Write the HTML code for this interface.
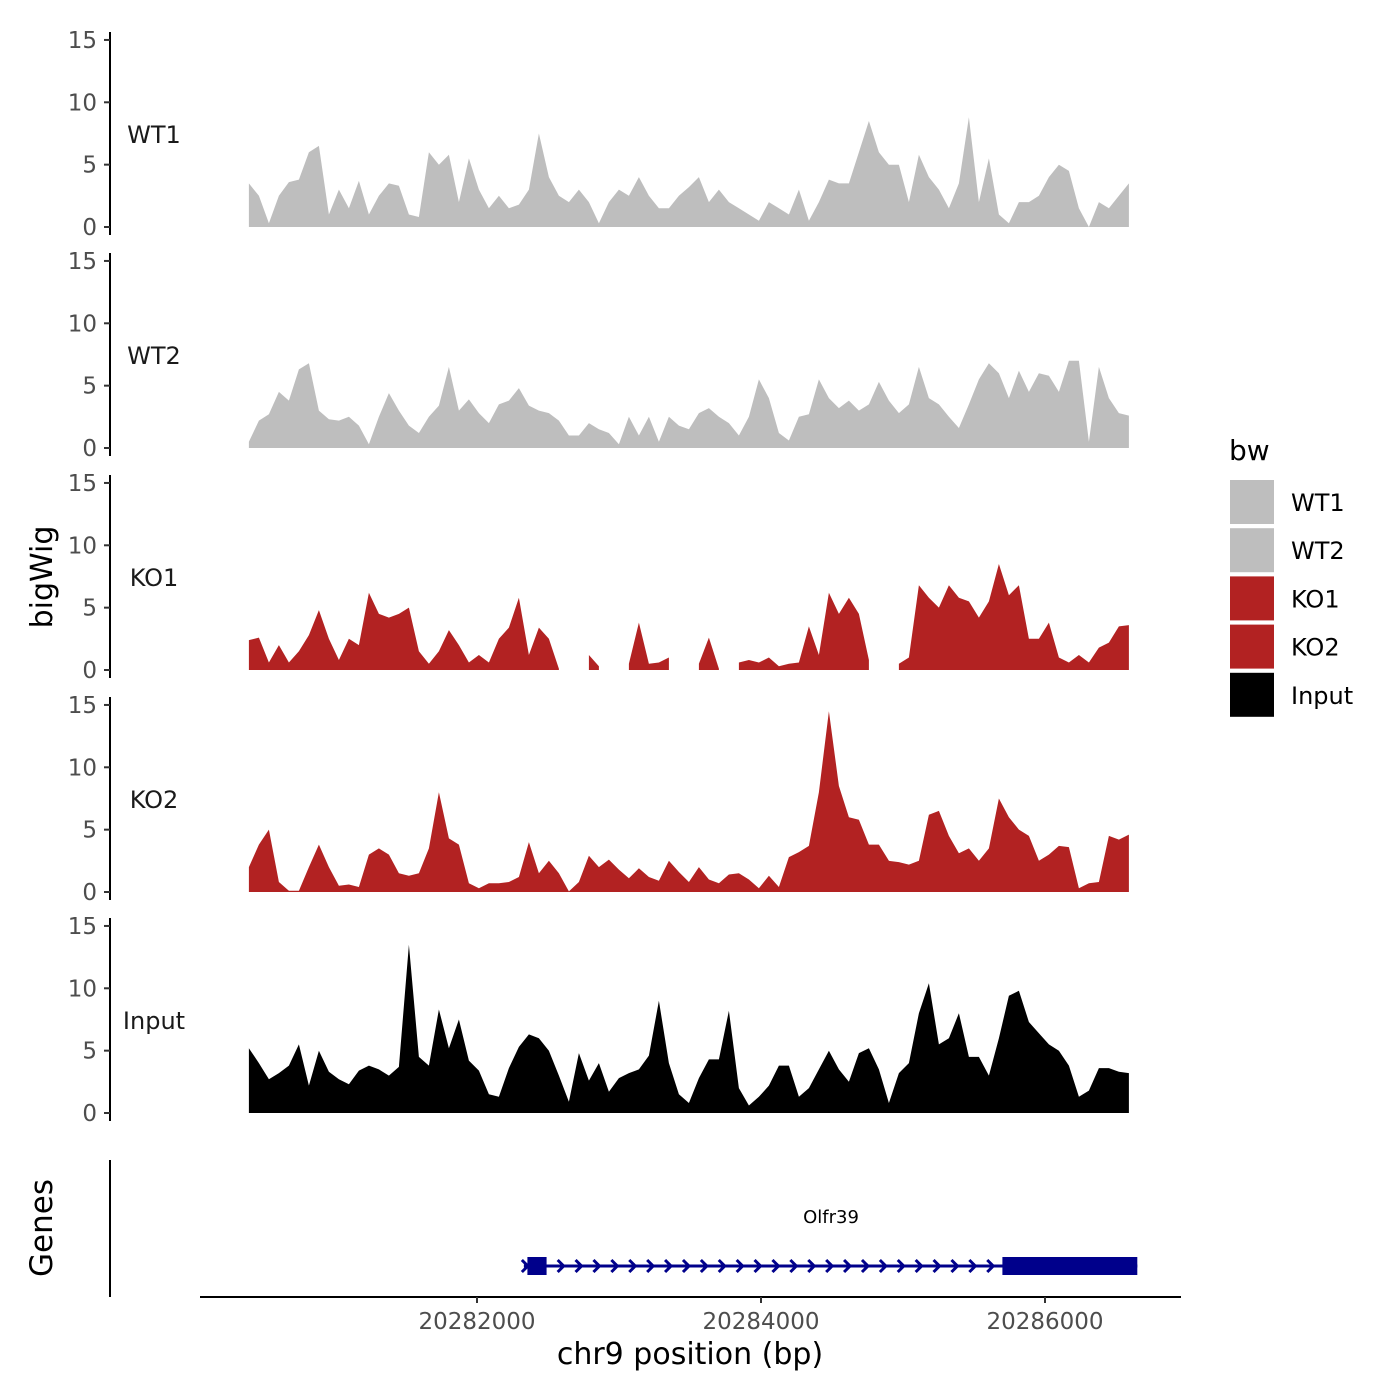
<!DOCTYPE html>
<html><head><meta charset="utf-8"><style>
html,body{margin:0;padding:0;background:#fff;}
svg{display:block;font-family:"DejaVu Sans","Liberation Sans",sans-serif;}
</style></head><body>
<svg id="chart" width="1400" height="1400" viewBox="0 0 1400 1400" xmlns="http://www.w3.org/2000/svg">
<g id="tracks"></g>
<g id="genes"></g>
<g id="xaxis"></g>
<g id="legend"></g>
<text transform="translate(52,577) rotate(-90)" text-anchor="middle" font-size="30" fill="#000">bigWig</text>
<text transform="translate(52,1228) rotate(-90)" text-anchor="middle" font-size="31" fill="#000">Genes</text>
<text x="690" y="1364" text-anchor="middle" font-size="30" fill="#000">chr9 position (bp)</text>
</svg>
<script>
const trackNames = ["WT1","WT2","KO1","KO2","Input"];
const trackColors = ["#BEBEBE","#BEBEBE","#B22222","#B22222","#000000"];
const dataStart = 20280394;
const dataStep = 70.42;
const wt1 = [3.5,2.5,0.3,2.5,3.6,3.8,6,6.5,1,3,1.5,3.7,1,2.5,3.5,3.3,1,0.8,6,5,5.8,2,5.5,3,1.5,2.5,1.5,1.8,3,7.5,4,2.5,2,3,2,0.3,2,3,2.5,4,2.5,1.5,1.5,2.5,3.2,4,2,3,2,1.5,1,0.5,2,1.5,1,3,0.5,2,3.8,3.5,3.5,6,8.5,6,5,5,2,5.8,4,3,1.5,3.5,8.8,2,5.5,1,0.3,2,2,2.5,4,5,4.5,1.5,0,2,1.5,2.5,3.5];
const wt2 = [0.5,2.2,2.7,4.5,3.8,6.3,6.8,3,2.3,2.2,2.5,1.8,0.3,2.5,4.4,3,1.8,1.2,2.5,3.4,6.5,3,3.9,2.8,2,3.5,3.8,4.8,3.4,3,2.8,2.2,1,1,2,1.5,1.2,0.3,2.5,1,2.5,0.5,2.5,1.8,1.5,2.8,3.2,2.5,2,1,2.5,5.5,4,1.2,0.6,2.5,2.7,5.5,4,3.2,3.8,3,3.5,5.3,3.8,2.8,3.5,6.5,4,3.5,2.5,1.6,3.5,5.5,6.8,6,4,6.2,4.5,6,5.8,4.5,7,7,0.5,6.5,4,2.8,2.6];
const ko1 = [2.4,2.6,0.6,2.0,0.6,1.5,2.8,4.8,2.5,0.8,2.5,2.0,6.2,4.5,4.2,4.5,5.0,1.5,0.5,1.5,3.2,2.0,0.6,1.2,0.6,2.5,3.4,5.8,1.2,3.4,2.5,0.1,null,null,1.2,0.3,null,null,0.5,3.8,0.5,0.6,1.0,null,null,0.5,2.6,0.1,null,0.6,0.8,0.6,1.0,0.3,0.5,0.6,3.5,1.2,6.2,4.5,5.8,4.5,0.8,null,null,0.5,1.0,6.8,5.8,5.0,6.8,5.8,5.5,4.2,5.5,8.5,6.0,6.8,2.5,2.5,3.8,1.0,0.6,1.2,0.6,1.8,2.2,3.5,3.6];
const ko2 = [2,3.8,5.0,0.8,0.1,0.1,2.0,3.8,2.0,0.5,0.6,0.4,3.0,3.5,3.0,1.5,1.3,1.5,3.5,8.0,4.3,3.8,0.7,0.3,0.7,0.7,0.8,1.2,4.0,1.5,2.5,1.5,0.05,0.8,2.9,2.0,2.6,1.8,1.1,1.9,1.2,0.9,2.5,1.6,0.8,2.0,1.0,0.7,1.4,1.5,1.0,0.3,1.3,0.4,2.8,3.2,3.7,8,14.5,8.5,6.0,5.8,3.8,3.8,2.5,2.4,2.2,2.5,6.2,6.5,4.5,3.1,3.5,2.5,3.5,7.5,6.0,5.0,4.5,2.5,3.0,3.7,3.6,0.3,0.7,0.8,4.5,4.2,4.6];
const input = [5.2,4.0,2.7,3.2,3.8,5.5,2.2,5.0,3.3,2.7,2.3,3.4,3.8,3.5,3.0,3.7,13.5,4.5,3.8,8.3,5.2,7.5,4.2,3.4,1.5,1.3,3.6,5.3,6.3,6.0,5.0,3.0,0.9,4.8,2.6,4.0,1.7,2.8,3.2,3.5,4.6,9.0,4.0,1.5,0.8,2.8,4.3,4.3,8.2,2.0,0.6,1.3,2.2,3.8,3.8,1.3,2.0,3.5,5.0,3.5,2.5,4.8,5.2,3.5,0.8,3.2,4.0,8.0,10.4,5.5,6.0,8.0,4.5,4.5,3.0,6.0,9.4,9.8,7.3,6.4,5.5,5.0,3.8,1.3,1.8,3.6,3.6,3.3,3.2];
const yTicks = [0,5,10,15];
const xTicks = [20282000,20284000,20286000];
const gene = {name:"Olfr39", start:20282330, end:20286650, utr1:[20282355,20282490], utr2:[20285700,20286650]};

const NS="http://www.w3.org/2000/svg";
function mk(tag, attrs, parent){const e=document.createElementNS(NS,tag);for(const k in attrs)e.setAttribute(k,attrs[k]);parent.appendChild(e);return e;}
const xs = bp => 477 + (bp-20282000)*0.142;
const panelBase = [227,448,670,892,1113];
const unit = 12.47;
const series = [wt1,wt2,ko1,ko2,input];
const tracks = document.getElementById('tracks');
series.forEach((vals,ti)=>{
  const base = panelBase[ti];
  const ys = v => base - v*unit;
  const g = mk('g',{},tracks);
  
  
  const ax = mk('line',{x1:110,x2:110,y1:base-15*unit-8,y2:base+8,stroke:'#000','stroke-width':2},g);
  
  
  yTicks.forEach(t=>{
    const tk = mk('line',{x1:104,x2:110,y1:ys(t),y2:ys(t),stroke:'#333','stroke-width':2},g);
    
    
    const tl = mk('text',{x:97,y:ys(t)+8,'text-anchor':'end','font-size':23,fill:'#4d4d4d'},g);
    tl.textContent = t;
    
    
  });
  const lab = mk('text',{x:154,y:base-84,'text-anchor':'middle','font-size':24,fill:'#1a1a1a'},g);
  lab.textContent = trackNames[ti];
  
  
  let seg=[];
  const flush=()=>{
    if(seg.length>1){
      let d='M'+seg[0][0].toFixed(1)+','+base;
      seg.forEach(p=>d+='L'+p[0].toFixed(1)+','+p[1].toFixed(1));
      d+='L'+seg[seg.length-1][0].toFixed(1)+','+base+'Z';
      const p = mk('path',{d:d,fill:trackColors[ti]},g);
      
      
    }
    seg=[];
  };
  vals.forEach((v,i)=>{
    if(v===null){flush();return;}
    seg.push([xs(dataStart+i*dataStep), ys(v)]);
  });
  flush();
});
const gg = document.getElementById('genes');
const gax = mk('line',{x1:110,x2:110,y1:1160,y2:1297,stroke:'#000','stroke-width':2},gg);


const gy=1266;
const gl = mk('line',{x1:xs(gene.start),x2:xs(gene.end),y1:gy,y2:gy,stroke:'#00008B','stroke-width':3},gg);


for(let x=xs(gene.start)+2;x<xs(gene.utr2[0])-4;x+=17.9){
  const c = mk('path',{d:`M${x-4},${gy-6}L${x+2},${gy}L${x-4},${gy+6}`,fill:'none',stroke:'#00008B','stroke-width':3},gg);
  
  
}
[gene.utr1,gene.utr2].forEach(u=>{
  const r = mk('rect',{x:xs(u[0]),y:1257,width:xs(u[1])-xs(u[0]),height:18,fill:'#00008B'},gg);
  
  
});
const gn = mk('text',{x:831,y:1223,'text-anchor':'middle','font-size':18,fill:'#000'},gg);
gn.textContent = gene.name;


const xa = document.getElementById('xaxis');
const xl = mk('line',{x1:200,x2:1181,y1:1297,y2:1297,stroke:'#000','stroke-width':2},xa);


xTicks.forEach(t=>{
  const tk = mk('line',{x1:xs(t),x2:xs(t),y1:1297,y2:1303,stroke:'#333','stroke-width':2},xa);
  
  
  const tl = mk('text',{x:xs(t),y:1329,'text-anchor':'middle','font-size':23,fill:'#4d4d4d'},xa);
  tl.textContent = t;
  
  
});
const lg = document.getElementById('legend');
const lt = mk('text',{x:1229,y:460,'font-size':28,fill:'#000'},lg);
lt.textContent='bw';


trackNames.forEach((n,i)=>{
  const y0 = 480+i*48.2;
  const r = mk('rect',{x:1230,y:y0,width:44,height:44,fill:trackColors[i]},lg);
  
  
  const t = mk('text',{x:1291,y:y0+31,'font-size':24,fill:'#000'},lg);
  t.textContent = n;
  
  
});
</script>
</body></html>
